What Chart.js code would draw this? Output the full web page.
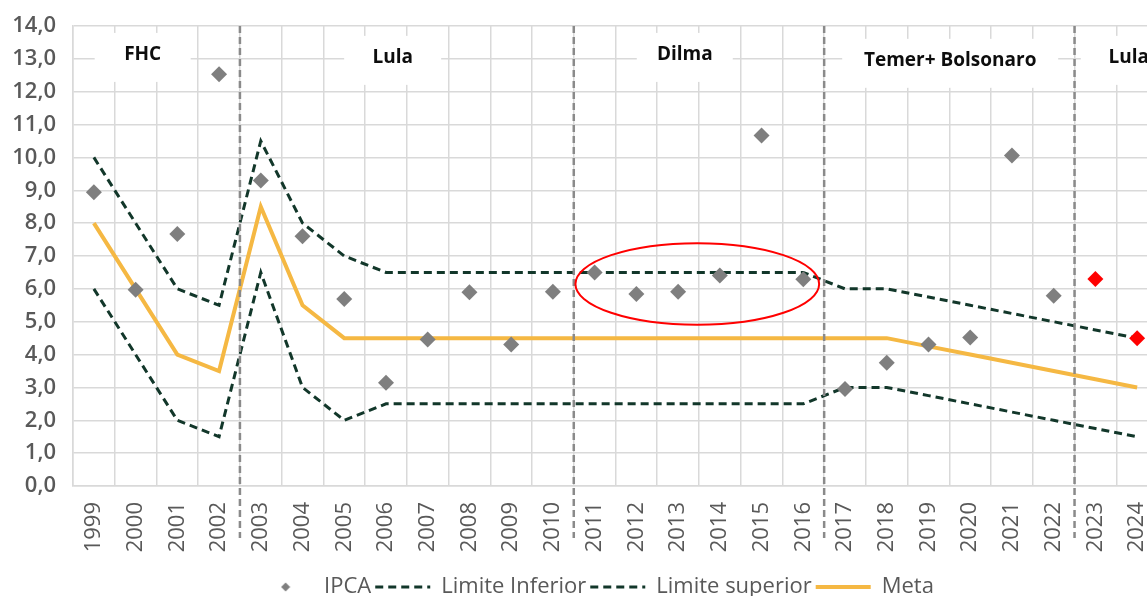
<!DOCTYPE html>
<html>
<head>
<meta charset="utf-8">
<script src="https://cdn.jsdelivr.net/npm/chart.js@4"></script>
<style>
  html, body { margin: 0; padding: 0; background: #fff; overflow: hidden; }
  canvas { display: block; }
</style>
</head>
<body>
<canvas id="grafico" width="1166" height="596"></canvas>
<script>
const anos = ['1999','2000','2001','2002','2003','2004','2005','2006','2007','2008','2009','2010','2011',
  '2012','2013','2014','2015','2016','2017','2018','2019','2020','2021','2022','2023','2024'];
const ipca = [8.94, 5.97, 7.67, 12.53, 9.30, 7.60, 5.69, 3.14, 4.46, 5.90, 4.31, 5.91, 6.50,
  5.84, 5.91, 6.41, 10.67, 6.29, 2.95, 3.75, 4.31, 4.52, 10.06, 5.79, 6.30, 4.50];
const limiteInferior = [6.0, 4.0, 2.0, 1.5, 6.5, 3.0, 2.0, 2.5, 2.5, 2.5, 2.5, 2.5, 2.5,
  2.5, 2.5, 2.5, 2.5, 2.5, 3.0, 3.0, 2.75, 2.5, 2.25, 2.0, 1.75, 1.5];
const limiteSuperior = [10.0, 8.0, 6.0, 5.5, 10.5, 8.0, 7.0, 6.5, 6.5, 6.5, 6.5, 6.5, 6.5,
  6.5, 6.5, 6.5, 6.5, 6.5, 6.0, 6.0, 5.75, 5.5, 5.25, 5.0, 4.75, 4.5];
const meta = [8.0, 6.0, 4.0, 3.5, 8.5, 5.5, 4.5, 4.5, 4.5, 4.5, 4.5, 4.5, 4.5,
  4.5, 4.5, 4.5, 4.5, 4.5, 4.5, 4.5, 4.25, 4.0, 3.75, 3.5, 3.25, 3.0];
const anosProjetados = ['2023', '2024'];
const periodos = ['FHC', 'Lula', 'Dilma', 'Temer+ Bolsonaro', 'Lula'];
const inicioPeriodos = ['1999', '2003', '2011', '2017', '2023'];

const cinza = '#595959';
const verde = '#12372a';
const tracejado = [8, 5];
const fonte = 'Open Sans';

// where the period labels sit (category index, value) and the white box behind them
const rotulos = [
  { x: 1.17, y: 13.12, w: 96 },
  { x: 7.16, y: 13.03, w: 97 },
  { x: 14.16, y: 13.12, w: 96 },
  { x: 20.52, y: 12.94, w: 216 },
  { x: 24.8, y: 13.03, w: 96 }
];

// small diamond for the legend (so it is not stretched to the line width)
const losango = document.createElement('canvas');
losango.width = 10; losango.height = 10;
(function () {
  const c = losango.getContext('2d');
  c.fillStyle = '#7f7f7f';
  c.beginPath();
  c.moveTo(5, 0.5); c.lineTo(9.5, 5); c.lineTo(5, 9.5); c.lineTo(0.5, 5);
  c.closePath();
  c.fill();
})();

const extras = {
  id: 'extras',
  afterLayout(chart) {
    // nudge the legend to where it sits in the original
    const lg = chart.legend;
    lg.top += 12; lg.bottom += 12;
    lg.left += 13; lg.right += 13;
  },
  beforeDatasetsDraw(chart) {
    const { ctx, scales: { x, y } } = chart;
    ctx.save();
    ctx.fillStyle = '#ffffff';
    rotulos.forEach(r => {
      const cx = x.getPixelForValue(r.x);
      const cy = y.getPixelForValue(r.y);
      ctx.fillRect(cx - r.w / 2, cy - 22, r.w, 49);
    });
    ctx.restore();
  },
  afterDatasetsDraw(chart) {
    const { ctx, chartArea, scales: { x, y } } = chart;
    ctx.save();
    // separators between governments
    ctx.strokeStyle = '#8a8a8a';
    ctx.lineWidth = 2.5;
    ctx.setLineDash([7, 4]);
    inicioPeriodos.slice(1).forEach(a => {
      const px = x.getPixelForValue(anos.indexOf(a) - 0.5);
      ctx.beginPath();
      ctx.moveTo(px, chartArea.top);
      ctx.lineTo(px, chartArea.bottom + 52);
      ctx.stroke();
    });
    ctx.setLineDash([]);

    // period names
    ctx.fillStyle = '#0d0d0d';
    ctx.font = 'bold 19px "' + fonte + '"';
    ctx.textAlign = 'center';
    ctx.textBaseline = 'middle';
    periodos.forEach((p, i) => {
      ctx.fillText(p, x.getPixelForValue(rotulos[i].x), y.getPixelForValue(rotulos[i].y));
    });

    // red ellipse around Dilma years
    const cx = x.getPixelForValue(14.46);
    const cy = y.getPixelForValue(6.15);
    const rx = x.getPixelForValue(14.46 + 2.92) - cx;
    const ry = cy - y.getPixelForValue(6.15 + 1.24);
    ctx.strokeStyle = '#ff0000';
    ctx.lineWidth = 2;
    ctx.beginPath();
    ctx.ellipse(cx, cy, rx, ry, 0, 0, Math.PI * 2);
    ctx.stroke();
    ctx.restore();
  }
};

new Chart(document.getElementById('grafico'), {
  type: 'line',
  data: {
    labels: anos,
    datasets: [
      {
        label: 'IPCA',
        data: ipca,
        showLine: false,
        pointStyle: 'rectRot',
        pointRadius: 8,
        pointBorderWidth: 0,
        pointBackgroundColor: anos.map(a => anosProjetados.includes(a) ? '#ff0000' : '#7f7f7f'),
        borderColor: '#7f7f7f',
        backgroundColor: '#7f7f7f'
      },
      {
        label: 'Limite Inferior',
        data: limiteInferior,
        borderColor: verde,
        backgroundColor: verde,
        borderWidth: 3,
        borderDash: tracejado,
        pointRadius: 0,
        tension: 0
      },
      {
        label: 'Limite superior',
        data: limiteSuperior,
        borderColor: verde,
        backgroundColor: verde,
        borderWidth: 3,
        borderDash: tracejado,
        pointRadius: 0,
        tension: 0
      },
      {
        label: 'Meta',
        data: meta,
        borderColor: '#f5b843',
        backgroundColor: '#f5b843',
        borderWidth: 4,
        pointRadius: 0,
        tension: 0
      }
    ]
  },
  options: {
    responsive: false,
    animation: false,
    layout: { padding: { top: 26, right: 0, left: 0, bottom: 0 } },
    plugins: {
      legend: {
        position: 'bottom',
        labels: {
          usePointStyle: true,
          pointStyleWidth: 55,
          boxHeight: 8,
          padding: 4,
          color: cinza,
          font: { family: fonte, size: 22 },
          generateLabels(chart) {
            const itens = Chart.defaults.plugins.legend.labels.generateLabels(chart);
            itens.forEach((it, i) => {
              if (i === 0) {
                it.pointStyle = losango;
              } else {
                it.pointStyle = 'line';
                it.lineDash = i === 3 ? [] : tracejado;
              }
            });
            return itens;
          }
        }
      },
      tooltip: { enabled: false }
    },
    scales: {
      x: {
        offset: true,
        grid: { offset: true, color: '#d9d9d9', lineWidth: 1.5, drawTicks: false },
        border: { color: '#d9d9d9', width: 1.5 },
        ticks: {
          color: cinza,
          font: { family: fonte, size: 22 },
          minRotation: 90,
          maxRotation: 90,
          autoSkip: false,
          padding: 16
        },
        afterFit(s) { s.height = 74; s.paddingLeft = 0; s.paddingRight = 0; }
      },
      y: {
        min: 0,
        max: 14,
        grid: { color: '#d9d9d9', lineWidth: 1.5, drawTicks: false },
        border: { color: '#d9d9d9', width: 1.5 },
        ticks: {
          stepSize: 1,
          color: cinza,
          font: { family: fonte, size: 22, weight: '600' },
          padding: 17,
          callback: v => v.toFixed(1).replace('.', ',')
        },
        afterFit(s) { s.width = 73; s.paddingTop = 0; s.paddingBottom = 0; }
      }
    }
  },
  plugins: [extras]
});
</script>
</body>
</html>
